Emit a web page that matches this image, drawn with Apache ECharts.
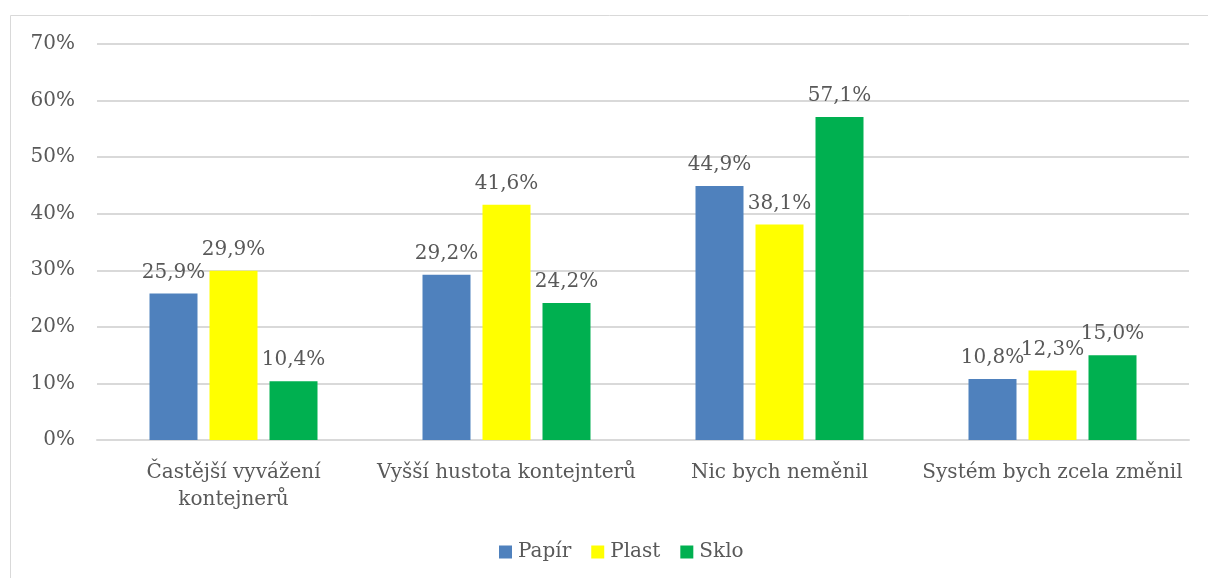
<!DOCTYPE html>
<html>
<head>
<meta charset="utf-8">
<script src="https://cdn.jsdelivr.net/npm/echarts@6/dist/echarts.min.js"></script>
<style>
  html, body { margin: 0; padding: 0; background: #fff; }
  #chart { width: 1208px; height: 578px; }
</style>
</head>
<body>
<div id="chart"></div>
<script>
const categories = ['Častější vyvážení\nkontejnerů', 'Vyšší hustota kontejnterů', 'Nic bych neměnil', 'Systém bych zcela změnil'];
const papir = [25.9, 29.2, 44.9, 10.8];
const plast = [29.9, 41.6, 38.1, 12.3];
const sklo = [10.4, 24.2, 57.1, 15.0];

const FONT = '"DejaVu Serif", "Liberation Serif", serif';
const TEXT = '#595959';
const SIZE = 20;

const chart = echarts.init(document.getElementById('chart'), null, { renderer: 'canvas' });

function bar(name, data, color) {
  return {
    name: name,
    type: 'bar',
    data: data,
    barWidth: 48,
    barGap: '25%',
    itemStyle: { color: color },
    label: {
      show: true,
      position: 'top',
      distance: 11,
      color: TEXT,
      fontFamily: FONT,
      fontSize: SIZE,
      formatter: p => p.value.toFixed(1).replace('.', ',') + '%'
    }
  };
}

chart.setOption({
  animation: false,
  textStyle: { fontFamily: FONT },
  graphic: [{
    type: 'rect',
    shape: { x: 10.5, y: 15.5, width: 1220, height: 600 },
    style: { fill: 'none', stroke: '#d9d9d9', lineWidth: 1 },
    silent: true,
    z: -1
  }],
  grid: { left: 97, right: 19, top: 44, bottom: 138, containLabel: false },
  legend: {
    bottom: 11,
    left: 494,
    itemWidth: 13,
    itemHeight: 13,
    itemGap: 20,
    icon: 'rect',
    textStyle: { color: TEXT, fontFamily: FONT, fontSize: SIZE, padding: [0, 0, 0, 1] },
    data: ['Papír', 'Plast', 'Sklo']
  },
  xAxis: {
    type: 'category',
    data: categories,
    axisLine: { lineStyle: { color: '#d9d9d9', width: 2 } },
    axisTick: { show: false },
    axisLabel: { color: TEXT, fontFamily: FONT, fontSize: SIZE, margin: 19, lineHeight: 27, interval: 0 }
  },
  yAxis: {
    type: 'value',
    min: 0,
    max: 70,
    interval: 10,
    axisLine: { show: false },
    axisTick: { show: false },
    splitLine: { lineStyle: { color: '#d9d9d9', width: 2 } },
    axisLabel: { color: TEXT, fontFamily: FONT, fontSize: SIZE, margin: 22, formatter: '{value}%' }
  },
  series: [
    bar('Papír', papir, '#4f81bd'),
    bar('Plast', plast, '#ffff00'),
    bar('Sklo', sklo, '#00b050')
  ]
});
</script>
</body>
</html>
